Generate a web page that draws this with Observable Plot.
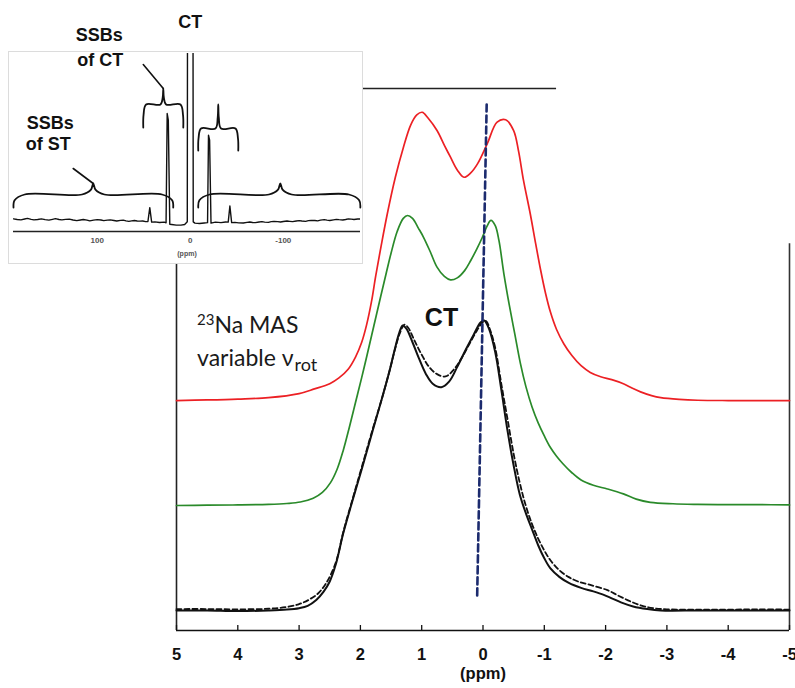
<!DOCTYPE html>
<html><head><meta charset="utf-8">
<script src="https://cdn.jsdelivr.net/npm/d3@7"></script>
<script src="https://cdn.jsdelivr.net/npm/@observablehq/plot@0.6"></script>
<style>
body{margin:0;background:#fff;}
#wrap{position:relative;width:795px;height:688px;overflow:hidden;background:#fff;}
#wrap svg{position:absolute;left:0;top:0;}
#insetFrame{position:absolute;left:8px;top:51px;width:353px;height:211px;border:1px solid #dcdcdc;background:#fff;}
</style></head><body><div id="wrap"></div>
<script>
// ---------- main spectra: [ppm, relative intensity] ----------
const blackSolid = [[5,0],[4.5,0],[4,-0.002],[3.5,0],[3.2,0.003],[3.0,0.008],[2.86,0.016],[2.72,0.036],[2.6,0.065],[2.5,0.1],[2.4,0.16],[2.28,0.266],[2.12,0.385],[1.97,0.493],[1.8,0.62],[1.65,0.73],[1.52,0.83],[1.44,0.9],[1.37,0.955],[1.31,0.983],[1.25,0.972],[1.15,0.925],[1.05,0.872],[0.93,0.815],[0.82,0.782],[0.68,0.77],[0.55,0.79],[0.42,0.84],[0.28,0.9],[0.15,0.952],[0.04,0.993],[-0.02,1.0],[-0.1,0.97],[-0.2,0.89],[-0.3,0.76],[-0.4,0.62],[-0.5,0.5],[-0.6,0.4],[-0.7,0.335],[-0.8,0.28],[-0.9,0.225],[-1.0,0.18],[-1.1,0.145],[-1.25,0.115],[-1.4,0.095],[-1.6,0.078],[-1.8,0.066],[-1.97,0.054],[-2.1,0.042],[-2.25,0.028],[-2.45,0.014],[-2.68,0.005],[-2.9,0],[-3.5,0],[-4,0],[-4.5,0],[-5,0]];
const blackDashed = [[5,0.005],[4.5,0.005],[4,0.004],[3.5,0.006],[3.2,0.012],[3.0,0.022],[2.85,0.036],[2.7,0.057],[2.58,0.087],[2.48,0.125],[2.38,0.18],[2.28,0.27],[2.12,0.39],[1.97,0.5],[1.8,0.625],[1.65,0.73],[1.52,0.83],[1.43,0.905],[1.35,0.96],[1.28,0.986],[1.22,0.975],[1.12,0.932],[1.0,0.882],[0.88,0.84],[0.75,0.815],[0.61,0.807],[0.48,0.83],[0.35,0.87],[0.22,0.92],[0.1,0.965],[0.0,0.995],[-0.05,0.998],[-0.12,0.965],[-0.2,0.905],[-0.3,0.78],[-0.4,0.66],[-0.5,0.54],[-0.6,0.44],[-0.7,0.36],[-0.8,0.298],[-0.9,0.248],[-1.0,0.207],[-1.1,0.173],[-1.25,0.138],[-1.4,0.115],[-1.55,0.1],[-1.75,0.088],[-2.03,0.07],[-2.2,0.052],[-2.41,0.031],[-2.6,0.016],[-2.78,0.008],[-3.0,0.004],[-3.5,0.003],[-4,0.003],[-4.5,0.004],[-5,0.003]];
const greenSpec = [[5,0],[4.5,0.001],[4,0.002],[3.5,0.004],[3.2,0.007],[2.98,0.012],[2.77,0.025],[2.62,0.045],[2.49,0.078],[2.38,0.125],[2.28,0.19],[2.18,0.27],[2.08,0.355],[1.98,0.44],[1.89,0.52],[1.78,0.62],[1.67,0.72],[1.58,0.8],[1.5,0.87],[1.4,0.945],[1.3,0.99],[1.23,1.0],[1.15,0.99],[1.05,0.955],[0.97,0.925],[0.86,0.875],[0.75,0.822],[0.63,0.79],[0.53,0.778],[0.42,0.785],[0.3,0.81],[0.2,0.845],[0.1,0.885],[0.01,0.925],[-0.07,0.965],[-0.13,0.983],[-0.2,0.965],[-0.26,0.914],[-0.34,0.8],[-0.43,0.69],[-0.52,0.59],[-0.61,0.49],[-0.7,0.41],[-0.8,0.34],[-0.9,0.285],[-1.0,0.24],[-1.1,0.2],[-1.2,0.17],[-1.3,0.145],[-1.45,0.113],[-1.6,0.088],[-1.8,0.07],[-2.03,0.057],[-2.29,0.04],[-2.5,0.022],[-2.73,0.011],[-3.1,0.006],[-3.5,0.004],[-4,0.003],[-4.5,0.003],[-5,0.002]];
const redSpec = [[5,0],[4.5,0.002],[4.0,0.005],[3.5,0.01],[3.0,0.024],[2.75,0.04],[2.5,0.058],[2.35,0.078],[2.2,0.108],[2.08,0.15],[1.98,0.2],[1.9,0.26],[1.82,0.34],[1.75,0.43],[1.66,0.535],[1.56,0.645],[1.43,0.77],[1.3,0.872],[1.18,0.95],[1.08,0.985],[0.99,0.994],[0.9,0.975],[0.75,0.931],[0.63,0.88],[0.53,0.839],[0.42,0.795],[0.31,0.77],[0.2,0.785],[0.09,0.816],[-0.07,0.886],[-0.23,0.96],[-0.37,0.968],[-0.5,0.931],[-0.58,0.86],[-0.66,0.76],[-0.77,0.645],[-0.86,0.54],[-0.94,0.45],[-1.02,0.37],[-1.1,0.305],[-1.2,0.245],[-1.32,0.195],[-1.45,0.155],[-1.6,0.12],[-1.75,0.097],[-1.92,0.082],[-2.1,0.072],[-2.29,0.058],[-2.43,0.043],[-2.57,0.03],[-2.75,0.017],[-2.9,0.01],[-3.2,0.004],[-3.5,0.001],[-4,0],[-4.5,0],[-5,0]];
const seriesNames = ["black solid","black dashed","green","red"];
const seriesOffsets = [0, 0, 0.362, 0.724];   // vertical stacking offsets (a.u.)
const refLine = [[-0.06,1.745],[0.095,0.052]]; // blue dashed reference line
const xTicks = [5,4,3,2,1,0,-1,-2,-3,-4,-5];

// ---------- inset spectrum: [ppm, intensity] ----------
const insetSpec = [[190,0.008],[186,0.004],[182,0.002],[178,0.007],[175,0.011],[171,0.005],[168,0.002],[164,0.004],[160,0.008],[156,0.003],[152,0.0],[148,0.005],[145,0.009],[141,0.004],[138,0.002],[134,0.005],[130,0.006],[126,0.001],[122,-0.003],[118,0.001],[115,0.004],[111,0.0],[108,-0.004],[104,0.0],[100,0.003],[96,0.001],[93,-0.003],[89,0.0],[86,0.002],[82,-0.002],[79,-0.005],[75,-0.001],[72,0.0],[69,-0.004],[66,-0.007],[63,-0.004],[60,-0.002],[57,-0.005],[54,-0.006],[51,-0.005],[48,-0.009],[45.5,-0.008],[43.5,0.075],[41.5,-0.012],[38,-0.01],[33,-0.014],[28,-0.012],[26,-0.016],[24.8,0.64],[23.6,0.6],[22,-0.025],[20,-0.026],[15,-0.03],[10,-0.03],[6,-0.026],[3.2,-0.01],[2.6,3.0],[-2.6,3.0],[-3.2,-0.01],[-5,-0.018],[-10,-0.02],[-15,-0.017],[-18.6,-0.015],[-19.6,0.51],[-20.8,0.48],[-22.3,-0.018],[-27,-0.012],[-33,-0.015],[-38,-0.011],[-40.8,-0.012],[-42.6,0.085],[-44.5,-0.015],[-48,-0.013],[-52,-0.016],[-57,-0.017],[-61,-0.013],[-64,-0.011],[-67,-0.014],[-70,-0.015],[-74,-0.011],[-77,-0.009],[-80,-0.012],[-84,-0.013],[-87,-0.009],[-90,-0.007],[-94,-0.009],[-97,-0.011],[-100,-0.008],[-104,-0.005],[-107,-0.007],[-110,-0.009],[-114,-0.005],[-117,-0.003],[-120,-0.005],[-124,-0.007],[-127,-0.003],[-130,-0.001],[-134,-0.002],[-137,-0.004],[-140,0.0],[-144,0.003],[-147,0.0],[-150,-0.002],[-154,0.002],[-157,0.005],[-160,0.003],[-164,0.001],[-167,0.004],[-170,0.008],[-173,0.006],[-176,0.004],[-180,0.007],[-183,0.007]];
const insetTicks = [100, 0, -100];
// braces: [leftPpm, rightPpm, middlePpm, barLevel, endLevel, tipLevel]
const braceSpecs = [[190,18.3,104.3,0.154,0.076,0.22],[-8.6,-182.8,-96.8,0.154,0.076,0.22],[50.5,7.5,29,0.694,0.556,0.79],[-8.6,-51.6,-30.1,0.55,0.418,0.694]];
const leaderLines = [[[104.3,0.22],[125.8,0.31]],[[29,0.79],[50.5,0.934]]];
const insetLabels = [["CT",0,1.186],["SSBs",97.8,1.108],["of CT",96.8,0.958],["SSBs",150.5,0.58],["of ST",152.7,0.454]];

// ---------- build tables ----------
const spectra = [blackSolid, blackDashed, greenSpec, redSpec];
const rows = spectra.flatMap((s, i) => s.map(([ppm, v]) => ({series: seriesNames[i], ppm, y: v + seriesOffsets[i]})));
const bySeries = name => rows.filter(r => r.series === name);

const yMin = -0.069, yMax = 1.8;
const font = "'Liberation Sans', Arial, Helvetica, sans-serif";

const main = Plot.plot({
  width: 795, height: 688,
  marginLeft: 176, marginRight: 6, marginTop: 88, marginBottom: 58,
  x: {domain: [5, -5]},
  y: {domain: [yMin, yMax], axis: null},
  style: {fontFamily: font, background: "#fff", overflow: "visible"},
  marks: [
    Plot.ruleY([yMin], {stroke: "#111", strokeWidth: 1.6}),
    Plot.ruleX([5], {y1: yMin, y2: yMax, stroke: "#222", strokeWidth: 1.6}),
    Plot.ruleX([-5], {y1: yMin, y2: 1.265, stroke: "#333", strokeWidth: 1.6}),
    Plot.ruleY([yMax], {x1: 5, x2: -1.2, stroke: "#222", strokeWidth: 1.4}),
    Plot.axisX({ticks: xTicks, tickSize: 5, dy: -5, fill: "none", label: null, stroke: "#111", strokeWidth: 1.3}),
    Plot.axisX({ticks: xTicks, tickSize: 0, tickPadding: 18, tickFormat: d => String(d), fontSize: 16.5, fontWeight: "bold", fill: "#111", label: null}),
    Plot.text(["(ppm)"], {text: d => d, frameAnchor: "bottom", dy: 48, fontSize: 16.5, fontWeight: "bold", fill: "#111"}),
    Plot.line(bySeries("red"), {x: "ppm", y: "y", stroke: "#ec2024", strokeWidth: 1.7, curve: "catmull-rom"}),
    Plot.line(bySeries("green"), {x: "ppm", y: "y", stroke: "#2a8a2a", strokeWidth: 1.7, curve: "catmull-rom"}),
    Plot.line(bySeries("black dashed"), {x: "ppm", y: "y", stroke: "#111", strokeWidth: 1.8, strokeDasharray: "5,3", curve: "catmull-rom"}),
    Plot.line(bySeries("black solid"), {x: "ppm", y: "y", stroke: "#111", strokeWidth: 2, curve: "catmull-rom"}),
    Plot.line(refLine, {x: d => d[0], y: d => d[1], stroke: "#1c2b6e", strokeWidth: 2.6, strokeDasharray: "7,4"}),
    Plot.text([["CT", 0.677, 1.007]], {x: d => d[1], y: d => d[2], text: d => d[0], fontSize: 25, fontWeight: "bold", fill: "#111"})
  ]
});

// Na MAS annotation with super/subscripts
{
  const sx = main.scale("x"), sy = main.scale("y");
  const g = d3.select(main).append("g").attr("font-family", "Lato, 'Open Sans', sans-serif").attr("fill", "#1a1a1a").attr("text-anchor", "start");
  const t1 = g.append("text").attr("x", sx.apply(4.657)).attr("y", sy.apply(0.955)).attr("font-size", 23);
  t1.append("tspan").attr("font-size", 15).attr("dy", -8).text("23");
  t1.append("tspan").attr("dy", 8).text("Na MAS");
  const t2 = g.append("text").attr("x", sx.apply(4.657)).attr("y", sy.apply(0.842)).attr("font-size", 23);
  t2.append("tspan").text("variable ν");
  t2.append("tspan").attr("font-size", 18).attr("dy", 5).attr("dx", 1).text("rot");
}

function brace([x0, x1, xm, yBar, yEnd, yTip]) {
  const c = (x0 - x1) * 0.07, h = yBar - yEnd, t = yTip - yBar;
  return [[x0, yEnd], [x0 - c * 0.1, yBar - h * 0.45], [x0 - c, yBar], [xm + c, yBar], [xm + c * 0.2, yBar + t * 0.45], [xm, yTip],
          [xm - c * 0.2, yBar + t * 0.45], [xm - c, yBar], [x1 + c, yBar], [x1 + c * 0.1, yBar - h * 0.45], [x1, yEnd]];
}

const inset = Plot.plot({
  width: 365, height: 265,
  marginLeft: 13, marginRight: 5, marginTop: 53, marginBottom: 34,
  x: {domain: [190, -183]},
  y: {domain: [-0.068, 1], axis: null},
  style: {fontFamily: font, background: "transparent", overflow: "visible"},
  marks: [
    Plot.ruleY([-0.068], {stroke: "#222", strokeWidth: 1.6}),
    Plot.axisX({ticks: insetTicks, tickSize: 0, tickPadding: 6, tickFormat: d => String(d), fontSize: 8, fontWeight: "bold", fill: "#555", label: null}),
    Plot.text(["(ppm)"], {text: d => d, frameAnchor: "bottom", dy: 24, fontSize: 7, fontWeight: "bold", fill: "#555"}),
    Plot.line(insetSpec, {x: d => d[0], y: d => d[1], stroke: "#111", strokeWidth: 1.4, clip: true}),
    ...braceSpecs.map(b => Plot.line(brace(b), {x: d => d[0], y: d => d[1], stroke: "#111", strokeWidth: 1.8, curve: "catmull-rom"})),
    ...leaderLines.map(l => Plot.line(l, {x: d => d[0], y: d => d[1], stroke: "#111", strokeWidth: 1.6})),
    Plot.text(insetLabels, {x: d => d[1], y: d => d[2], text: d => d[0], fontSize: 18, fontWeight: "bold", fill: "#111"})
  ]
});

const wrap = document.getElementById("wrap");
wrap.appendChild(main);
const frame = document.createElement("div");
frame.id = "insetFrame";
wrap.appendChild(frame);
wrap.appendChild(inset);
</script>
</body></html>
